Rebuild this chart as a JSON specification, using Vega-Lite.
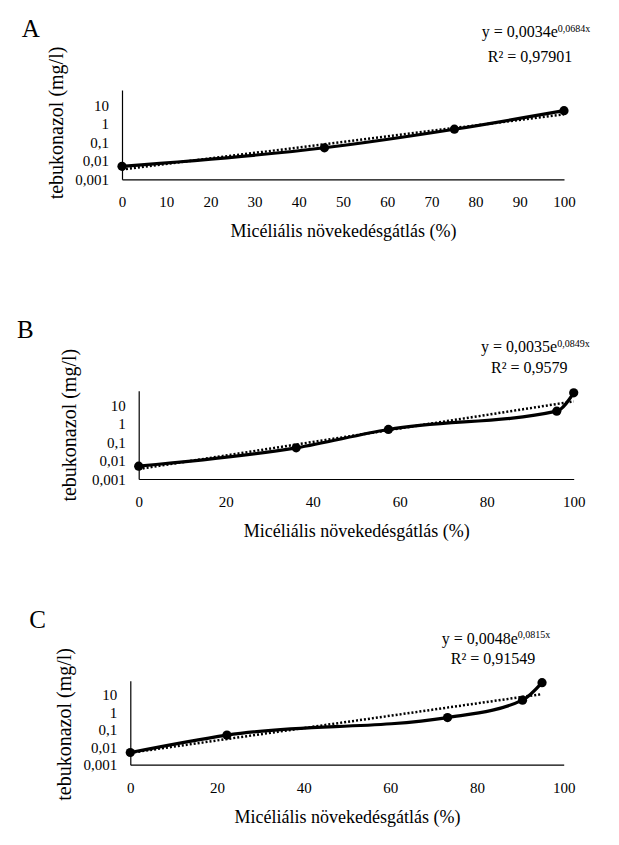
{
  "$schema": "https://vega.github.io/schema/vega-lite/v6.json",
  "background": "white",
  "padding": {"left": 16, "top": 16, "right": 34, "bottom": 19},
  "config": {
    "view": {"stroke": null},
    "font": "Liberation Serif",
    "axis": {
      "domainColor": "black", "domainWidth": 1.2, "grid": false, "ticks": false, "tickSize": 0,
      "labelFont": "Liberation Serif", "titleFont": "Liberation Serif", "labelColor": "black", "titleColor": "black",
      "labelFontSize": 15, "titleFontWeight": "normal", "labelFlush": false, "labelOverlap": false
    }
  },
  "datasets": {
    "A": [{"x": 0, "c": 0.005}, {"x": 45.8, "c": 0.05}, {"x": 75.2, "c": 0.5}, {"x": 100, "c": 5}],
    "B": [{"x": 0, "c": 0.005}, {"x": 36.2, "c": 0.05}, {"x": 57.4, "c": 0.5}, {"x": 96.1, "c": 5}, {"x": 100, "c": 50}],
    "C": [{"x": 0, "c": 0.005}, {"x": 22.3, "c": 0.05}, {"x": 73.2, "c": 0.5}, {"x": 90.5, "c": 5}, {"x": 95, "c": 50}],
    "trendA": [{"x": 0, "c": 0.0034}, {"x": 100, "c": 3.18}],
    "trendB": [{"x": 0, "c": 0.0035}, {"x": 100, "c": 17.0}],
    "trendC": [{"x": 0, "c": 0.0048}, {"x": 95, "c": 11.1}]
  },
  "bounds": "flush",
  "spacing": 210.7,
  "vconcat": [
    {
      "width": 442, "height": 89.3,
      "layer": [
        {"data": {"name": "trendA"}, "mark": {"type": "line", "strokeDash": [2, 2], "strokeWidth": 2.5, "color": "black"},
          "encoding": {
            "x": {"field": "x", "type": "quantitative", "scale": {"domain": [0, 100], "nice": false},
              "axis": {"values": [0, 10, 20, 30, 40, 50, 60, 70, 80, 90, 100], "format": "d", "labelBaseline": "middle", "labelPadding": 22, "labelFont": "Liberation Serif", "titleFont": "Liberation Serif",
                "title": "Micéliális növekedésgátlás (%)", "titleFontSize": 18, "titleY": 52, "titleBaseline": "middle"}},
            "y": {"field": "c", "type": "quantitative", "scale": {"type": "log", "domain": [0.001, 65], "nice": false},
              "axis": {"values": [0.001, 0.01, 0.1, 1, 10], "format": "~f", "labelExpr": "replace(datum.label, '.', ',')", "labelPadding": 13.5, "labelFont": "Liberation Serif", "titleFont": "Liberation Serif",
                "title": "tebukonazol (mg/l)", "titleFontSize": 20, "titleX": -66, "titleY": 32.5, "titleBaseline": "middle"}}
          }},
        {"data": {"name": "A"}, "mark": {"type": "line", "interpolate": "monotone", "strokeWidth": 3.2, "color": "black"},
          "encoding": {"x": {"field": "x", "type": "quantitative"}, "y": {"field": "c", "type": "quantitative"}}},
        {"data": {"name": "A"}, "mark": {"type": "circle", "size": 85, "color": "black", "opacity": 1},
          "encoding": {"x": {"field": "x", "type": "quantitative"}, "y": {"field": "c", "type": "quantitative"}}},
        {"data": {"values": [{}]}, "mark": {"type": "text", "font": "Liberation Serif", "fontSize": 25, "align": "left", "baseline": "middle", "dy": -61.5, "color": "black"},
          "encoding": {"text": {"value": "A"}, "x": {"datum": -22.7, "type": "quantitative"}, "y": {"datum": 65, "type": "quantitative"}}},
        {"data": {"values": [{}]}, "mark": {"type": "text", "font": "Liberation Serif", "fontSize": 16, "align": "right", "baseline": "middle", "dy": -57.7, "color": "black"},
          "encoding": {"text": {"value": "y = 0,0034e"}, "x": {"datum": 98.6, "type": "quantitative"}, "y": {"datum": 65, "type": "quantitative"}}},
        {"data": {"values": [{}]}, "mark": {"type": "text", "font": "Liberation Serif", "fontSize": 10, "align": "left", "baseline": "middle", "dy": -61.5, "color": "black"},
          "encoding": {"text": {"value": "0,0684x"}, "x": {"datum": 98.6, "type": "quantitative"}, "y": {"datum": 65, "type": "quantitative"}}},
        {"data": {"values": [{}]}, "mark": {"type": "text", "font": "Liberation Serif", "fontSize": 16, "align": "center", "baseline": "middle", "dy": -33.3, "color": "black"},
          "encoding": {"text": {"value": "R² = 0,97901"}, "x": {"datum": 92.3, "type": "quantitative"}, "y": {"datum": 65, "type": "quantitative"}}}
      ]
    },
    {
      "bounds": "flush",
      "spacing": 201,
      "vconcat": [
        {
          "width": 451.7, "height": 88.3,
          "layer": [
            {"data": {"name": "trendB"}, "mark": {"type": "line", "strokeDash": [2, 2], "strokeWidth": 2.5, "color": "black"},
              "encoding": {
                "x": {"field": "x", "type": "quantitative", "scale": {"domain": [0, 100], "nice": false, "range": [16.7, 451.7]},
                  "axis": {"values": [0, 20, 40, 60, 80, 100], "format": "d", "labelBaseline": "middle", "labelPadding": 22, "labelFont": "Liberation Serif", "titleFont": "Liberation Serif",
                    "title": "Micéliális növekedésgátlás (%)", "titleFontSize": 18, "titleY": 52, "titleBaseline": "middle"}},
                "y": {"field": "c", "type": "quantitative", "scale": {"type": "log", "domain": [0.001, 65], "nice": false},
                  "axis": {"values": [0.001, 0.01, 0.1, 1, 10], "format": "~f", "labelExpr": "replace(datum.label, '.', ',')", "labelPadding": 13.5, "offset": -16.7, "labelFont": "Liberation Serif", "titleFont": "Liberation Serif",
                    "title": "tebukonazol (mg/l)", "titleFontSize": 20, "titleX": -69.4, "titleY": 34, "titleBaseline": "middle"}}
              }},
            {"data": {"name": "B"}, "mark": {"type": "line", "interpolate": "monotone", "strokeWidth": 3.2, "color": "black"},
              "encoding": {"x": {"field": "x", "type": "quantitative"}, "y": {"field": "c", "type": "quantitative"}}},
            {"data": {"name": "B"}, "mark": {"type": "circle", "size": 85, "color": "black", "opacity": 1},
              "encoding": {"x": {"field": "x", "type": "quantitative"}, "y": {"field": "c", "type": "quantitative"}}},
            {"data": {"values": [{}]}, "mark": {"type": "text", "font": "Liberation Serif", "fontSize": 25, "align": "left", "baseline": "middle", "dy": -60.5, "color": "black"},
              "encoding": {"text": {"value": "B"}, "x": {"datum": -28.0, "type": "quantitative"}, "y": {"datum": 65, "type": "quantitative"}}},
            {"data": {"values": [{}]}, "mark": {"type": "text", "font": "Liberation Serif", "fontSize": 16, "align": "right", "baseline": "middle", "dy": -43.3, "color": "black"},
              "encoding": {"text": {"value": "y = 0,0035e"}, "x": {"datum": 96.2, "type": "quantitative"}, "y": {"datum": 65, "type": "quantitative"}}},
            {"data": {"values": [{}]}, "mark": {"type": "text", "font": "Liberation Serif", "fontSize": 10, "align": "left", "baseline": "middle", "dy": -47, "color": "black"},
              "encoding": {"text": {"value": "0,0849x"}, "x": {"datum": 96.2, "type": "quantitative"}, "y": {"datum": 65, "type": "quantitative"}}},
            {"data": {"values": [{}]}, "mark": {"type": "text", "font": "Liberation Serif", "fontSize": 16, "align": "center", "baseline": "middle", "dy": -22.7, "color": "black"},
              "encoding": {"text": {"value": "R² = 0,9579"}, "x": {"datum": 89.8, "type": "quantitative"}, "y": {"datum": 65, "type": "quantitative"}}}
          ]
        },
        {
          "width": 441.7, "height": 84,
          "layer": [
            {"data": {"name": "trendC"}, "mark": {"type": "line", "strokeDash": [2, 2], "strokeWidth": 2.5, "color": "black"},
              "encoding": {
                "x": {"field": "x", "type": "quantitative", "scale": {"domain": [0, 100], "nice": false, "range": [8.3, 441.7]},
                  "axis": {"values": [0, 20, 40, 60, 80, 100], "format": "d", "labelBaseline": "middle", "labelPadding": 23, "labelFont": "Liberation Serif", "titleFont": "Liberation Serif",
                    "title": "Micéliális növekedésgátlás (%)", "titleFontSize": 18, "titleY": 53, "titleBaseline": "middle"}},
                "y": {"field": "c", "type": "quantitative", "scale": {"type": "log", "domain": [0.001, 65], "nice": false},
                  "axis": {"values": [0.001, 0.01, 0.1, 1, 10], "format": "~f", "labelExpr": "replace(datum.label, '.', ',')", "labelPadding": 13.5, "offset": -8.3, "labelFont": "Liberation Serif", "titleFont": "Liberation Serif",
                    "title": "tebukonazol (mg/l)", "titleFontSize": 20, "titleX": -66, "titleY": 43.2, "titleBaseline": "middle"}}
              }},
            {"data": {"name": "C"}, "mark": {"type": "line", "interpolate": "monotone", "strokeWidth": 3.2, "color": "black"},
              "encoding": {"x": {"field": "x", "type": "quantitative"}, "y": {"field": "c", "type": "quantitative"}}},
            {"data": {"name": "C"}, "mark": {"type": "circle", "size": 85, "color": "black", "opacity": 1},
              "encoding": {"x": {"field": "x", "type": "quantitative"}, "y": {"field": "c", "type": "quantitative"}}},
            {"data": {"values": [{}]}, "mark": {"type": "text", "font": "Liberation Serif", "fontSize": 25, "align": "left", "baseline": "middle", "dy": -60.3, "color": "black"},
              "encoding": {"text": {"value": "C"}, "x": {"datum": -23.3, "type": "quantitative"}, "y": {"datum": 65, "type": "quantitative"}}},
            {"data": {"values": [{}]}, "mark": {"type": "text", "font": "Liberation Serif", "fontSize": 16, "align": "right", "baseline": "middle", "dy": -42, "color": "black"},
              "encoding": {"text": {"value": "y = 0,0048e"}, "x": {"datum": 89.4, "type": "quantitative"}, "y": {"datum": 65, "type": "quantitative"}}},
            {"data": {"values": [{}]}, "mark": {"type": "text", "font": "Liberation Serif", "fontSize": 10, "align": "left", "baseline": "middle", "dy": -45.7, "color": "black"},
              "encoding": {"text": {"value": "0,0815x"}, "x": {"datum": 89.4, "type": "quantitative"}, "y": {"datum": 65, "type": "quantitative"}}},
            {"data": {"values": [{}]}, "mark": {"type": "text", "font": "Liberation Serif", "fontSize": 16, "align": "center", "baseline": "middle", "dy": -22, "color": "black"},
              "encoding": {"text": {"value": "R² = 0,91549"}, "x": {"datum": 83.7, "type": "quantitative"}, "y": {"datum": 65, "type": "quantitative"}}}
          ]
        }
      ]
    }
  ]
}
